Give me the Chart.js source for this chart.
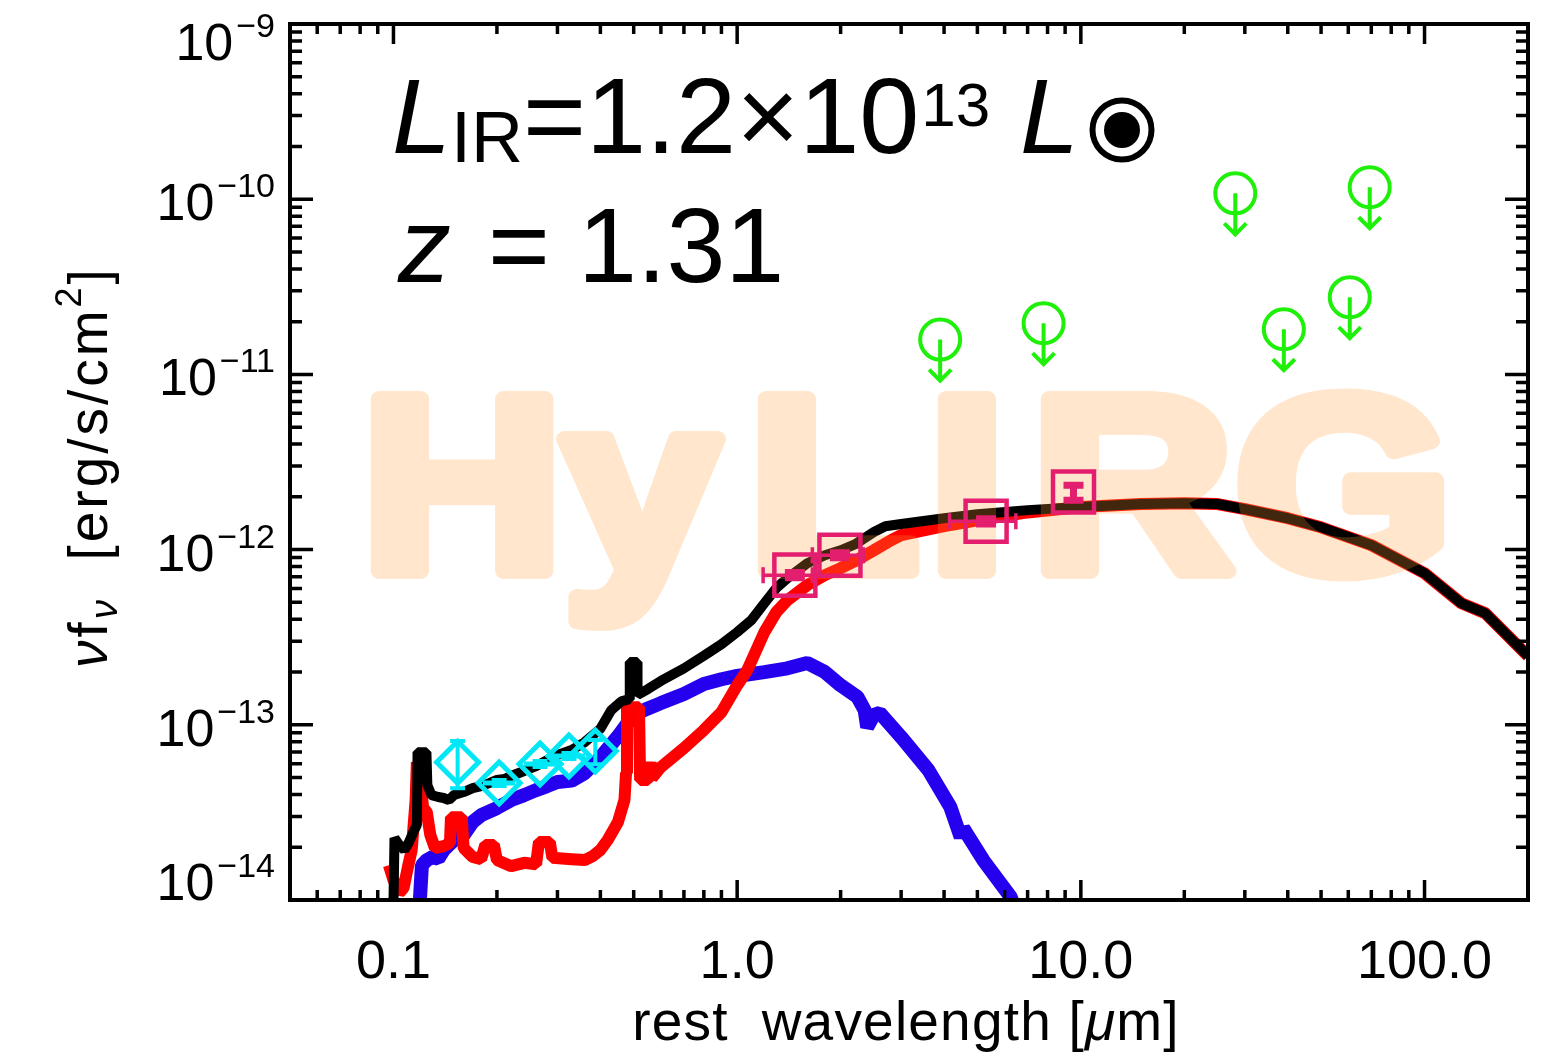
<!DOCTYPE html>
<html>
<head>
<meta charset="utf-8">
<title>HyLIRG SED</title>
<script src="https://cdn.jsdelivr.net/npm/chart.js@4.4.1/dist/chart.umd.min.js"></script>
<style>
  html, body { margin: 0; padding: 0; background: #fff; }
  #sed { display: block; }
</style>
</head>
<body>
<canvas id="sed" width="1562" height="1056"></canvas>
<script>
// rest-frame SED, wavelength in micron, nu*f_nu in erg/s/cm^2

// total model (host + AGN)
const totalWave = [0.1, 0.1007, 0.104, 0.1076, 0.111, 0.115, 0.117, 0.1175, 0.1247, 0.1255, 0.129, 0.135, 0.14, 0.145, 0.15, 0.16, 0.17, 0.18, 0.19, 0.2, 0.21, 0.22, 0.24, 0.26, 0.28, 0.3, 0.33, 0.36, 0.4, 0.43, 0.46, 0.486, 0.487, 0.512, 0.513, 0.55, 0.6, 0.7, 0.8, 0.9, 1.0, 1.1, 1.2, 1.3, 1.4, 1.6, 1.8, 2.0, 2.2, 2.5, 2.7, 3.0, 4.0, 5.0, 7.0, 10, 15, 20, 25, 30, 40, 50, 70, 100, 128, 150, 200];
const totalFlux = [9.5e-15, 2.26e-14, 2.06e-14, 1.93e-14, 2.14e-14, 2.51e-14, 2.68e-14, 6.98e-14, 6.98e-14, 4.53e-14, 3.97e-14, 3.87e-14, 3.82e-14, 3.72e-14, 3.97e-14, 4.13e-14, 4.35e-14, 4.47e-14, 4.65e-14, 4.84e-14, 4.90e-14, 5.10e-14, 5.45e-14, 5.81e-14, 6.29e-14, 6.72e-14, 7.18e-14, 7.96e-14, 9.5e-14, 1.21e-13, 1.36e-13, 1.40e-13, 2.28e-13, 2.28e-13, 1.48e-13, 1.60e-13, 1.78e-13, 2.10e-13, 2.48e-13, 2.88e-13, 3.38e-13, 3.96e-13, 4.94e-13, 6.03e-13, 6.87e-13, 8.36e-13, 9.29e-13, 9.91e-13, 1.07e-12, 1.26e-12, 1.36e-12, 1.40e-12, 1.51e-12, 1.59e-12, 1.68e-12, 1.75e-12, 1.82e-12, 1.84e-12, 1.82e-12, 1.70e-12, 1.51e-12, 1.34e-12, 1.06e-12, 7.33e-13, 4.94e-13, 4.34e-13, 2.47e-13];

// AGN template (emission lines + torus)
const agnWave = [0.097, 0.1, 0.104, 0.107, 0.11, 0.113, 0.116, 0.117, 0.119, 0.122, 0.125, 0.128, 0.132, 0.14, 0.146, 0.147, 0.158, 0.16, 0.17, 0.18, 0.185, 0.196, 0.2, 0.22, 0.24, 0.26, 0.265, 0.285, 0.29, 0.33, 0.36, 0.38, 0.4, 0.42, 0.45, 0.47, 0.475, 0.478, 0.518, 0.522, 0.55, 0.56, 0.565, 0.6, 0.7, 0.8, 0.9, 1.0, 1.07, 1.2, 1.3, 1.4, 1.6, 1.8, 2.0, 2.2, 2.5, 2.8, 3.0, 4.0, 5.0, 7.0, 10, 15, 20, 25, 30, 40, 50, 70, 100, 128, 150, 200];
const agnFlux = [1.58e-14, 1.30e-14, 1.10e-14, 1.17e-14, 1.52e-14, 1.93e-14, 3.72e-14, 6.12e-14, 5.52e-14, 3.35e-14, 3.18e-14, 2.35e-14, 1.98e-14, 2.03e-14, 2.11e-14, 2.97e-14, 2.97e-14, 1.98e-14, 1.76e-14, 1.71e-14, 2.06e-14, 2.06e-14, 1.69e-14, 1.56e-14, 1.63e-14, 1.60e-14, 2.14e-14, 2.14e-14, 1.74e-14, 1.71e-14, 1.69e-14, 1.78e-14, 1.93e-14, 2.20e-14, 2.79e-14, 3.72e-14, 5.30e-14, 1.26e-13, 1.26e-13, 4.84e-14, 4.84e-14, 6.12e-14, 4.97e-14, 5.74e-14, 7.36e-14, 9.33e-14, 1.18e-13, 1.68e-13, 2.05e-13, 3.38e-13, 4.40e-13, 5.14e-13, 6.27e-13, 7.15e-13, 7.83e-13, 8.59e-13, 9.91e-13, 1.13e-12, 1.21e-12, 1.36e-12, 1.47e-12, 1.63e-12, 1.75e-12, 1.82e-12, 1.84e-12, 1.82e-12, 1.70e-12, 1.51e-12, 1.34e-12, 1.06e-12, 7.33e-13, 4.94e-13, 4.34e-13, 2.47e-13];

// host galaxy (stellar) template
const hostWave = [0.119, 0.121, 0.125, 0.13, 0.135, 0.14, 0.15, 0.16, 0.17, 0.18, 0.2, 0.22, 0.24, 0.26, 0.28, 0.3, 0.33, 0.36, 0.4, 0.45, 0.5, 0.55, 0.6, 0.7, 0.8, 0.9, 1.0, 1.2, 1.4, 1.6, 1.8, 2.0, 2.24, 2.35, 2.39, 2.5, 2.6, 3.0, 3.6, 4.17, 4.47, 4.55, 5.2, 6.25, 6.5];
const hostFlux = [9.0e-15, 1.58e-14, 1.69e-14, 1.76e-14, 1.72e-14, 1.93e-14, 2.20e-14, 2.35e-14, 2.79e-14, 3.05e-14, 3.35e-14, 3.72e-14, 3.97e-14, 4.24e-14, 4.47e-14, 4.71e-14, 4.80e-14, 5.30e-14, 6.5e-14, 8.6e-14, 1.14e-13, 1.24e-13, 1.33e-13, 1.50e-13, 1.71e-13, 1.82e-13, 1.90e-13, 2.00e-13, 2.10e-13, 2.25e-13, 2.00e-13, 1.68e-13, 1.44e-13, 1.21e-13, 9.70e-14, 1.14e-13, 1.17e-13, 8.51e-14, 5.52e-14, 3.40e-14, 2.29e-14, 2.57e-14, 1.69e-14, 1.04e-14, 8.5e-15];

// SDSS ugriz
const sdssWave = [0.1537, 0.203, 0.267, 0.324, 0.3866];
const sdssFlux = [6.12e-14, 4.65e-14, 5.97e-14, 6.63e-14, 7.08e-14];
const sdssFluxLo = [4.35e-14, 4.47e-14, 5.74e-14, 6.37e-14, 5.95e-14];
const sdssFluxHi = [8.07e-14, 4.84e-14, 6.21e-14, 6.90e-14, 8.2e-14];
const sdssWaveLo = [null, 0.182, 0.240, 0.291, null];
const sdssWaveHi = [null, 0.226, 0.297, 0.361, null];

// WISE W1-W4
const wiseWave = [1.472, 1.991, 5.30, 9.52];
const wiseFlux = [7.15e-13, 9.29e-13, 1.45e-12, 2.13e-12];
const wiseFluxLo = [6.9e-13, 8.97e-13, 1.40e-12, 1.91e-12];
const wiseFluxHi = [7.4e-13, 9.6e-13, 1.50e-12, 2.33e-12];
const wiseWaveLo = [1.19, 1.655, 4.15, null];
const wiseWaveHi = [1.655, 2.33, 6.47, null];

// AKARI upper limits
const akariWave = [3.896, 7.79, 28.14, 38.96, 60.6, 69.26];
const akariLimit = [1.58e-11, 1.96e-11, 1.08e-10, 1.81e-11, 2.76e-11, 1.17e-10];

// axes
const X_MIN = 0.05, X_MAX = 200;
const Y_MIN = 1e-14, Y_MAX = 1e-9;
const xTickValues = [0.1, 1, 10, 100];
const xTickLabels = ['0.1', '1.0', '10.0', '100.0'];
const yTickValues = [1e-14, 1e-13, 1e-12, 1e-11, 1e-10, 1e-9];
const yTickExponents = ['\u221214', '\u221213', '\u221212', '\u221211', '\u221210', '\u22129'];

const GREEN = 'rgb(30, 240, 10)';
const PINK = 'rgb(228, 30, 110)';
const CYAN = 'rgb(0, 232, 245)';
const BLUE = 'rgb(36, 0, 238)';
const RED = 'rgb(255, 0, 0)';

const FAMILY = '"Liberation Sans", Arial, sans-serif';
const font = (px, style = '') => `${style} ${px}px ${FAMILY}`.trim();

const WATERMARK = 'HyLIRG';
const watermarkLeft = [370, 555, 757, 937, 1040, 1237];

function toPoints(xs, ys) {
    return xs.map((x, i) => ({ x, y: ys[i] }));
}

// draw a run of text, return the x where the next run starts
function run(ctx, text, f, x, y, spacing = 0) {
    ctx.font = f;
    if (!spacing) {
        ctx.fillText(text, x, y);
        return x + ctx.measureText(text).width;
    }
    for (const ch of text) {
        ctx.fillText(ch, x, y);
        x += ctx.measureText(ch).width + spacing;
    }
    return x;
}

function runWidth(ctx, runs, spacing) {
    let w = 0;
    for (const r of runs) {
        ctx.font = r.f;
        for (const ch of r.t) w += ctx.measureText(ch).width + spacing;
    }
    return w;
}

function drawWatermark(chart) {
    const ctx = chart.ctx;
    const off = document.createElement('canvas');
    off.width = chart.width;
    off.height = chart.height;
    const o = off.getContext('2d');
    o.font = font(250, 'bold');
    o.fillStyle = o.strokeStyle = 'rgb(255, 155, 55)';
    o.lineWidth = 16;
    o.lineJoin = 'round';
    const stretch = 1.12;
    WATERMARK.split('').forEach((ch, i) => {
        const m = o.measureText(ch);
        o.save();
        o.translate(watermarkLeft[i], 0);
        o.scale(stretch, 1);
        const x = m.actualBoundingBoxLeft + 8;
        o.fillText(ch, x, 571);
        o.strokeText(ch, x, 571);
        o.restore();
    });
    ctx.save();
    ctx.globalAlpha = 0.25;
    ctx.drawImage(off, 0, 0);
    ctx.restore();
}

function drawErrorBars(chart, o) {
    const { ctx, scales: { x, y } } = chart;
    ctx.save();
    ctx.strokeStyle = o.color;
    ctx.lineCap = 'butt';
    o.wave.forEach((w, i) => {
        const px = x.getPixelForValue(w);
        const py = y.getPixelForValue(o.flux[i]);
        if (o.fluxLo[i] != null) {
            const y0 = y.getPixelForValue(o.fluxLo[i]);
            const y1 = y.getPixelForValue(o.fluxHi[i]);
            ctx.lineWidth = o.vWidth;
            ctx.beginPath();
            ctx.moveTo(px, y0); ctx.lineTo(px, y1);
            ctx.moveTo(px - o.vCap, y0); ctx.lineTo(px + o.vCap, y0);
            ctx.moveTo(px - o.vCap, y1); ctx.lineTo(px + o.vCap, y1);
            ctx.stroke();
        }
        if (o.waveLo[i] != null) {
            const x0 = x.getPixelForValue(o.waveLo[i]);
            const x1 = x.getPixelForValue(o.waveHi[i]);
            ctx.lineWidth = o.hWidth;
            ctx.beginPath();
            ctx.moveTo(x0, py); ctx.lineTo(x1, py);
            if (o.hCap) {
                ctx.moveTo(x0, py - o.hCap); ctx.lineTo(x0, py + o.hCap);
                ctx.moveTo(x1, py - o.hCap); ctx.lineTo(x1, py + o.hCap);
            }
            ctx.stroke();
        }
    });
    ctx.restore();
}

function drawLimitArrows(chart) {
    const ctx = chart.ctx;
    const meta = chart.getDatasetMeta(0);
    ctx.save();
    ctx.strokeStyle = GREEN;
    ctx.lineWidth = 4;
    ctx.beginPath();
    meta.data.forEach(pt => {
        ctx.moveTo(pt.x, pt.y);
        ctx.lineTo(pt.x, pt.y + 42);
        ctx.moveTo(pt.x - 11, pt.y + 30);
        ctx.lineTo(pt.x, pt.y + 41);
        ctx.lineTo(pt.x + 11, pt.y + 30);
    });
    ctx.stroke();
    ctx.restore();
}

function drawFrame(chart) {
    const { ctx, chartArea: a, scales: { x, y } } = chart;
    ctx.save();
    ctx.strokeStyle = '#000';
    ctx.lineWidth = 4;
    ctx.strokeRect(a.left, a.top, a.right - a.left, a.bottom - a.top);

    ctx.lineWidth = 3.5;
    ctx.beginPath();
    for (let e = -2; e <= 2; e++) {
        for (let k = 1; k <= 9; k++) {
            const v = k * Math.pow(10, e);
            if (v <= X_MIN * 1.001 || v >= X_MAX * 0.999) continue;
            const px = x.getPixelForValue(v);
            const len = k === 1 ? 20 : 10;
            ctx.moveTo(px, a.bottom); ctx.lineTo(px, a.bottom - len);
            ctx.moveTo(px, a.top); ctx.lineTo(px, a.top + len);
        }
    }
    for (let e = -14; e <= -10; e++) {
        for (let k = 1; k <= 9; k++) {
            const v = k * Math.pow(10, e);
            if (v <= Y_MIN * 1.001 || v >= Y_MAX * 0.999) continue;
            const py = y.getPixelForValue(v);
            const len = k === 1 ? 23 : 12;
            ctx.moveTo(a.left, py); ctx.lineTo(a.left + len, py);
            ctx.moveTo(a.right, py); ctx.lineTo(a.right - len, py);
        }
    }
    ctx.stroke();
    ctx.restore();
}

function drawAxisLabels(chart) {
    const { ctx, chartArea: a, scales: { x, y } } = chart;
    ctx.save();
    ctx.fillStyle = '#000';
    ctx.textBaseline = 'alphabetic';

    // x tick labels
    ctx.textAlign = 'center';
    ctx.font = font(54);
    xTickValues.forEach((v, i) => {
        ctx.fillText(xTickLabels[i], x.getPixelForValue(v), 978);
    });

    // y tick labels, 10 with exponent
    ctx.textAlign = 'left';
    yTickValues.forEach((v, i) => {
        const py = y.getPixelForValue(v);
        const base = Math.min(Math.max(py + 21, a.top + 36), a.bottom);
        ctx.font = font(34);
        const wExp = ctx.measureText(yTickExponents[i]).width;
        ctx.font = font(52);
        const wTen = ctx.measureText('10').width;
        const expX = 275 - wExp;
        run(ctx, '10', font(52), expX - wTen - 3, base);
        run(ctx, yTickExponents[i], font(34), expX, base - 23);
    });

    // x title
    const xRuns = [
        { t: 'rest  wavelength [', f: font(55) },
        { t: '\u03bc', f: font(55, 'italic') },
        { t: 'm]', f: font(55) }
    ];
    let cx = 906 - runWidth(ctx, xRuns, 1.2) / 2;
    for (const r of xRuns) cx = run(ctx, r.t, r.f, cx, 1040, 1.2);

    // y title, rotated
    const yRuns = [
        { t: '\u03bd', f: font(55, 'italic'), dy: 0 },
        { t: 'f', f: font(55), dy: 0 },
        { t: '\u03bd', f: font(38, 'italic'), dy: 10 },
        { t: '  [erg/s/cm', f: font(55), dy: 0 },
        { t: '2', f: font(36), dy: -26 },
        { t: ']', f: font(55), dy: 0 }
    ];
    ctx.translate(107, 467);
    ctx.rotate(-Math.PI / 2);
    let cy = -runWidth(ctx, yRuns, 3) / 2;
    for (const r of yRuns) cy = run(ctx, r.t, r.f, cy, r.dy, 3);
    ctx.restore();
}

function drawAnnotation(chart) {
    const ctx = chart.ctx;
    ctx.save();
    ctx.fillStyle = '#000';
    ctx.strokeStyle = '#000';
    ctx.textAlign = 'left';
    ctx.textBaseline = 'alphabetic';

    let x = 392;
    x = run(ctx, 'L', font(106, 'italic'), x, 153);
    x = run(ctx, 'IR', font(72), x, 162);
    x = run(ctx, '=1.2\u00d710', font(108), x, 153);
    run(ctx, '13', font(62), x + 2, 126);
    run(ctx, 'L', font(106, 'italic'), 1020, 153);

    // solar symbol
    ctx.lineWidth = 6;
    ctx.beginPath();
    ctx.arc(1122, 130, 29.5, 0, Math.PI * 2);
    ctx.stroke();
    ctx.beginPath();
    ctx.arc(1122, 130, 18, 0, Math.PI * 2);
    ctx.fill();

    run(ctx, 'z', font(106, 'italic'), 398, 282);
    run(ctx, '=', font(106), 488, 282);
    run(ctx, '1.31', font(106), 578, 282);
    ctx.restore();
}

const sedOverlay = {
    id: 'sedOverlay',
    afterDatasetDraw(chart, args) {
        // watermark goes over the model curves, under the photometry
        if (args.index === 3) drawWatermark(chart);
    },
    afterDatasetsDraw(chart) {
        drawErrorBars(chart, {
            wave: sdssWave, flux: sdssFlux, fluxLo: sdssFluxLo, fluxHi: sdssFluxHi,
            waveLo: sdssWaveLo, waveHi: sdssWaveHi, color: CYAN,
            vWidth: 4, vCap: 7.5, hWidth: 5, hCap: 0
        });
        drawErrorBars(chart, {
            wave: wiseWave, flux: wiseFlux, fluxLo: wiseFluxLo, fluxHi: wiseFluxHi,
            waveLo: wiseWaveLo, waveHi: wiseWaveHi, color: PINK,
            vWidth: 7, vCap: 10, hWidth: 3.5, hCap: 8
        });
        drawLimitArrows(chart);
    },
    afterDraw(chart) {
        drawFrame(chart);
        drawAxisLabels(chart);
        drawAnnotation(chart);
    }
};

const curve = (label, xs, ys, color, width, order) => ({
    label,
    data: toPoints(xs, ys),
    showLine: true,
    pointRadius: 0,
    borderColor: color,
    borderWidth: width,
    borderJoinStyle: 'bevel',
    fill: false,
    clip: 0,
    order
});

const marker = (label, xs, ys, color, style, radius, width, order) => ({
    label,
    data: toPoints(xs, ys),
    pointStyle: style,
    pointRadius: radius,
    pointHoverRadius: radius,
    pointBorderColor: color,
    pointBorderWidth: width,
    pointBackgroundColor: 'rgba(0,0,0,0)',
    borderColor: color,
    order
});

new Chart(document.getElementById('sed'), {
    type: 'scatter',
    data: {
        datasets: [
            marker('AKARI', akariWave, akariLimit, GREEN, 'circle', 20, 4, 1),
            marker('WISE', wiseWave, wiseFlux, PINK, 'rect', 29, 4.5, 2),
            marker('SDSS', sdssWave, sdssFlux, CYAN, 'rectRot', 21, 5, 3),
            curve('total', totalWave, totalFlux, '#000', 10, 4),
            curve('AGN', agnWave, agnFlux, RED, 12, 5),
            curve('host', hostWave, hostFlux, BLUE, 14, 6)
        ]
    },
    options: {
        responsive: false,
        animation: false,
        devicePixelRatio: 1,
        events: [],
        layout: {
            autoPadding: false,
            padding: { left: 290, top: 24, right: 34, bottom: 156 }
        },
        scales: {
            x: { type: 'logarithmic', min: X_MIN, max: X_MAX, display: false },
            y: { type: 'logarithmic', min: Y_MIN, max: Y_MAX, display: false }
        },
        plugins: {
            legend: { display: false },
            tooltip: { enabled: false }
        }
    },
    plugins: [sedOverlay]
});
</script>
</body>
</html>
